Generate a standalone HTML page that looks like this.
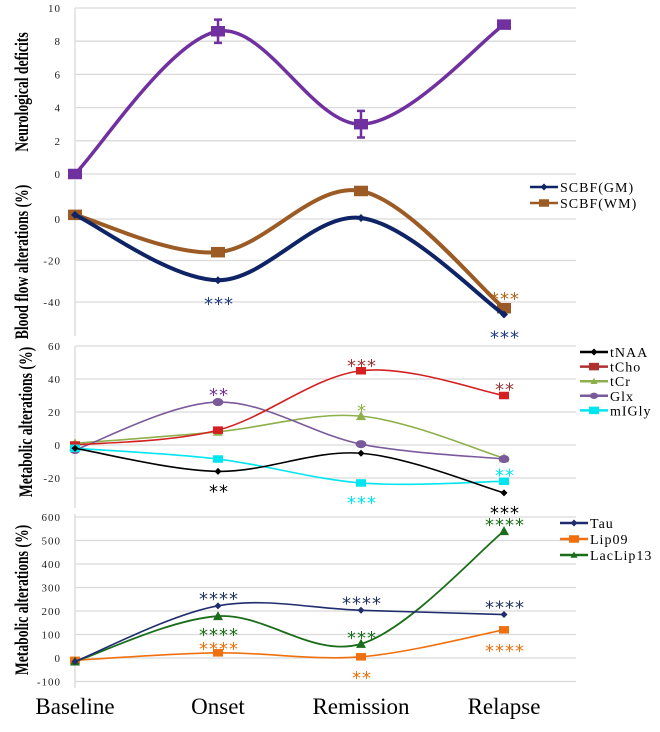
<!DOCTYPE html>
<html><head><meta charset="utf-8">
<style>
body{margin:0;background:#fff;}
svg{display:block;font-family:"Liberation Serif",serif;}
</style></head>
<body>
<svg id="chart" width="660" height="732" viewBox="0 0 660 732" xmlns="http://www.w3.org/2000/svg"></svg>
<script>
const categories = ["Baseline","Onset","Remission","Relapse"];
// Panel 1
const neuro = [0, 8.6, 3, 9];
const neuroErr = [0, 0.7, 0.8, 0];
const neuroTicks = [0,2,4,6,8,10];
// Panel 2
const scbfGM = [2, -29.5, 0.5, -46];
const scbfWM = [2, -16, 13.5, -43];
const bloodTicks = [0,-20,-40];
// Panel 3
const tNAA = [-2, -16, -5, -29];
const tCho = [0, 9, 45, 30];
const tCr = [1, 8, 17.5, -8];
const glx = [-3, 26, 0.5, -8.5];
const mIGly = [-2, -8.5, -23, -22];
const metTicks = [60,40,20,0,-20];
// Panel 4
const tau = [-15, 222, 203, 185];
const lip09 = [-10, 22, 5, 120];
const lacLip13 = [-15, 178, 60, 540];
const met2Ticks = [600,500,400,300,200,100,0,-100];

const svg = document.getElementById('chart');
const NS = 'http://www.w3.org/2000/svg';
function mk(tag, attrs, parent){
  const e = document.createElementNS(NS, tag);
  for (const k in attrs) e.setAttribute(k, attrs[k]);
  (parent||svg).appendChild(e);
  return e;
}
const X0 = 75, XSTEP = 143, XR = 576;
function xPos(i){ return X0 + i*XSTEP; }
function yScale(v0, y0, v1, y1){ return v => y0 + (v - v0)*(y1 - y0)/(v1 - v0); }

function smoothPath(pts){
  let d = `M${pts[0][0]},${pts[0][1]}`;
  const t = 1/6;
  for (let i=0;i<pts.length-1;i++){
    const p0 = pts[i-1]||pts[i], p1=pts[i], p2=pts[i+1], p3=pts[i+2]||pts[i+1];
    const c1x = p1[0] + (p2[0]-p0[0])*t, c1y = p1[1] + (p2[1]-p0[1])*t;
    const c2x = p2[0] - (p3[0]-p1[0])*t, c2y = p2[1] - (p3[1]-p1[1])*t;
    d += ` C${c1x},${c1y} ${c2x},${c2y} ${p2[0]},${p2[1]}`;
  }
  return d;
}

function grid(ticks, ys, yTop, yBot, name){
  const g = mk('g', {});
  
  
  ticks.forEach(t => {
    const y = ys(t);
    const l = mk('line', {x1:X0, x2:XR, y1:y, y2:y, stroke:'#d9d9d9', 'stroke-width':1.3}, g);
    
    
    const tx = mk('text', {x:X0-14, y:y+4, 'text-anchor':'end', 'font-size':11, fill:'#222', 'letter-spacing':'1'}, g);
    tx.textContent = t;
    
    
  });
  const ax = mk('line', {x1:X0, x2:X0, y1:yTop, y2:yBot, stroke:'#d9d9d9', 'stroke-width':1.3}, g);
  
  
}

function marker(type, x, y, color, size, g){
  let e;
  if (type==='square') e = mk('rect', {x:x-size, y:y-size*0.75, width:size*2, height:size*1.5, fill:color}, g);
  else if (type==='diamond') e = mk('path', {d:`M${x},${y-size} L${x+size},${y} L${x},${y+size} L${x-size},${y} Z`, fill:color}, g);
  else if (type==='circle') e = mk('ellipse', {cx:x, cy:y, rx:size*1.2, ry:size*0.9, fill:color}, g);
  else if (type==='triangle') e = mk('path', {d:`M${x},${y-size} L${x+size},${y+size*0.8} L${x-size},${y+size*0.8} Z`, fill:color}, g);
  return e;
}

function series(vals, ys, color, width, mType, mSize, name){
  const g = mk('g', {});
  
  
  const pts = vals.map((v,i)=>[xPos(i), ys(v)]);
  const p = mk('path', {d:smoothPath(pts), fill:'none', stroke:color, 'stroke-width':width}, g);
  
  
  pts.forEach(pt => {
    const m = marker(mType, pt[0], pt[1], color, mSize, g);
    
    
  });
}

function star(txt, x, y, color, name){
  const t = mk('text', {x:x+1, y:y+5, 'text-anchor':'middle', 'font-size':18, fill:color, 'font-family':'"DejaVu Sans",sans-serif', 'letter-spacing':'1'});
  t.textContent = txt;
  
  
}

function ytitle(txt, x, y, name){
  const t = mk('text', {x:0, y:0, transform:`translate(${x},${y}) rotate(-90) scale(0.72,1)`, 'text-anchor':'middle', 'font-size':19, 'font-weight':'bold', fill:'#000'});
  t.textContent = txt;
  
  
}

function legendEntry(x, y, color, mType, label, name){
  const g = mk('g', {});
  
  
  mk('line', {x1:x, x2:x+28, y1:y, y2:y, stroke:color, 'stroke-width':2.5}, g);
  marker(mType, x+14, y, color, mType==='square'?5:3.5, g);
  const t = mk('text', {x:x+30, y:y+5, 'font-size':14, fill:'#000', 'letter-spacing':'1'}, g);
  t.textContent = label;
}

// Panel 1
const y1 = yScale(0, 174, 10, 8);
grid(neuroTicks, y1, 8, 174, 'neuro');
ytitle('Neurological deficits', 28, 92, 'neuro-y-axis-title');
series(neuro, y1, '#7030a0', 3.5, 'square', 7, 'neuro');
neuro.forEach((v,i)=>{
  if (neuroErr[i]>0){
    const x = xPos(i);
    const e = mk('path', {d:`M${x},${y1(v+neuroErr[i])} V${y1(v-neuroErr[i])} M${x-4},${y1(v+neuroErr[i])} H${x+4} M${x-4},${y1(v-neuroErr[i])} H${x+4}`, stroke:'#7030a0', 'stroke-width':2.5, fill:'none'});
    
    
  }
});

// Panel 2
const y2 = yScale(0, 219, -40, 302);
grid(bloodTicks, y2, 180, 336, 'blood');
ytitle('Blood flow alterations (%)', 28, 262, 'blood-y-axis-title');
series(scbfWM, y2, '#9c5b24', 4, 'square', 7, 'scbf-wm');
series(scbfGM, y2, '#0e2466', 4, 'diamond', 4, 'scbf-gm');
star('***', xPos(1), y2(scbfGM[1])+25, '#1f3c88', 'star-gm-onset');
star('***', xPos(3), y2(scbfWM[3])-8, '#b0651c', 'star-wm-relapse');
star('***', xPos(3), y2(scbfGM[3])+24, '#1f3c88', 'star-gm-relapse');
legendEntry(530, 187, '#0e2466', 'diamond', 'SCBF(GM)', 'scbf-gm');
legendEntry(530, 203, '#9c5b24', 'square', 'SCBF(WM)', 'scbf-wm');

// Panel 3
const y3 = yScale(0, 445, 60, 346);
grid(metTicks, y3, 346, 508, 'metab');
ytitle('Metabolic alterations (%)', 32, 422, 'metab-y-axis-title');
series(tCr, y3, '#8db04a', 1.6, 'triangle', 5, 'tcr');
series(glx, y3, '#7a5a9a', 1.6, 'circle', 4.5, 'glx');
series(tCho, y3, '#d42020', 1.6, 'square', 5, 'tcho');
series(mIGly, y3, '#00e5f0', 1.6, 'square', 5, 'migly');
series(tNAA, y3, '#000', 1.6, 'diamond', 3.5, 'tnaa');
star('**', xPos(1), y3(glx[1])-6, '#7030a0', 'star-glx-onset');
star('**', xPos(1), y3(tNAA[1])+21, '#000', 'star-tnaa-onset');
star('***', xPos(2), y3(tCho[2])-4, '#993333', 'star-tcho-remission');
star('*', xPos(2), y3(tCr[2])-4, '#8db04a', 'star-tcr-remission');
star('***', xPos(2), y3(mIGly[2])+21, '#00e5f0', 'star-migly-remission');
star('**', xPos(3), y3(tCho[3])-5, '#993333', 'star-tcho-relapse');
star('**', xPos(3), y3(mIGly[3])-5, '#00e5f0', 'star-migly-relapse');
star('***', xPos(3), y3(tNAA[3])+21, '#000', 'star-tnaa-relapse');
const l3 = [['#000','diamond','tNAA'],['#b03030','square','tCho'],['#8db04a','triangle','tCr'],['#7a5a9a','circle','Glx'],['#00e5f0','square','mIGly']];
l3.forEach((d,i)=>legendEntry(580, 352+i*14.6, d[0], d[1], d[2], d[2].toLowerCase()));

// Panel 4
const y4 = yScale(0, 658, 600, 517);
grid(met2Ticks, y4, 514, 688, 'metab2');
ytitle('Metabolic alterations (%)', 28, 600, 'metab2-y-axis-title');
series(lip09, y4, '#f07010', 1.6, 'square', 5, 'lip09');
series(lacLip13, y4, '#1a6e1a', 1.8, 'triangle', 5, 'laclip13');
series(tau, y4, '#1f2d6e', 1.6, 'diamond', 3.5, 'tau');
star('****', xPos(1), y4(tau[1])-6, '#22335e', 'star-tau-onset');
star('****', xPos(1), y4(lacLip13[1])+20, '#1a6e1a', 'star-lac-onset');
star('****', xPos(1), y4(lip09[1])-3, '#f07010', 'star-lip-onset');
star('****', xPos(2), y4(tau[2])-6, '#22335e', 'star-tau-remission');
star('***', xPos(2), y4(lacLip13[2])-5, '#1a6e1a', 'star-lac-remission');
star('**', xPos(2), y4(lip09[2])+22, '#f07010', 'star-lip-remission');
star('****', xPos(3), y4(lacLip13[3])-5, '#1a6e1a', 'star-lac-relapse');
star('****', xPos(3), y4(tau[3])-6, '#22335e', 'star-tau-relapse');
star('****', xPos(3), y4(lip09[3])+22, '#f07010', 'star-lip-relapse');
legendEntry(560, 523, '#1f2d6e', 'diamond', 'Tau', 'tau');
legendEntry(560, 539, '#f07010', 'square', 'Lip09', 'lip09');
legendEntry(560, 555, '#1a6e1a', 'triangle', 'LacLip13', 'laclip13');

// Category labels
categories.forEach((c,i)=>{
  const t = mk('text', {x:xPos(i), y:714, 'text-anchor':'middle', 'font-size':23, fill:'#000'});
  t.textContent = c;
  
  
});
</script>
</body></html>
